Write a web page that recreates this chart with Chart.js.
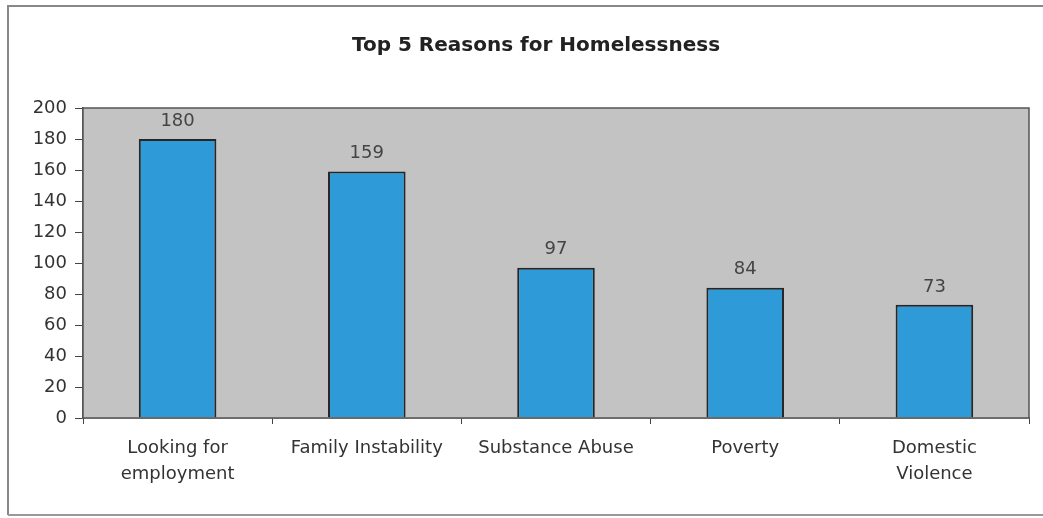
<!DOCTYPE html>
<html>
<head>
<meta charset="utf-8">
<script src="https://cdn.jsdelivr.net/npm/chart.js@4"></script>
<style>
    html, body { margin: 0; padding: 0; background: #fff; }
    #wrap { width: 1043px; height: 518px; position: relative; }
</style>
</head>
<body>
<div id="wrap"><canvas id="chart" width="1043" height="518"></canvas></div>
<script>
// Data
const categories = [
    ["Looking for", "employment"],
    "Family Instability",
    "Substance Abuse",
    "Poverty",
    ["Domestic", "Violence"]
];
const counts = [180, 159, 97, 84, 73];
const yTicks = [0, 20, 40, 60, 80, 100, 120, 140, 160, 180, 200];
const chartTitle = 'Top 5 Reasons for Homelessness';

const FONT = "'DejaVu Sans', sans-serif";

// Frame, title, gray plot area and value labels
const framePlugin = {
    id: 'frame',
    beforeDatasetsDraw(chart) {
        const { ctx, chartArea: a } = chart;
        ctx.save();
        ctx.fillStyle = '#c3c3c3';
        ctx.fillRect(a.left, a.top, a.right - a.left, a.bottom - a.top);
        ctx.restore();
    },
    afterDatasetsDraw(chart) {
        const { ctx, chartArea: a } = chart;
        ctx.save();
        ctx.strokeStyle = '#555';
        ctx.lineWidth = 1.5;
        ctx.strokeRect(a.left, a.top, a.right - a.left, a.bottom - a.top);
        // outer border
        ctx.strokeStyle = '#888';
        ctx.lineWidth = 2;
        ctx.beginPath();
        ctx.moveTo(8, 515);
        ctx.lineTo(8, 6);
        ctx.lineTo(1043, 6);
        ctx.stroke();
        ctx.strokeStyle = '#999';
        ctx.beginPath();
        ctx.moveTo(8, 515);
        ctx.lineTo(1043, 515);
        ctx.stroke();
        // title
        ctx.fillStyle = '#222';
        ctx.font = 'bold 20px ' + FONT;
        ctx.textAlign = 'center';
        ctx.textBaseline = 'middle';
        ctx.fillText(chartTitle, 536, 46);
        // value labels
        ctx.fillStyle = '#444';
        ctx.font = '18px ' + FONT;
        ctx.textBaseline = 'bottom';
        chart.getDatasetMeta(0).data.forEach((bar, i) => {
            ctx.fillText(String(counts[i]), bar.x, bar.y - 9);
        });
        ctx.restore();
    }
};

new Chart(document.getElementById('chart'), {
    type: 'bar',
    data: {
        labels: categories,
        datasets: [{
            data: counts,
            backgroundColor: '#2f9ad8',
            borderColor: '#262626',
            borderWidth: 2,
            categoryPercentage: 1,
            barPercentage: 0.41
        }]
    },
    options: {
        responsive: false,
        animation: false,
        layout: { padding: { left: 0, right: 14, top: 108, bottom: 0 } },
        plugins: {
            legend: { display: false },
            tooltip: { enabled: false },
            title: { display: false }
        },
        scales: {
            x: {
                grid: { display: true, drawOnChartArea: false, drawTicks: true, tickLength: 6, color: '#444', offset: true },
                border: { display: true, color: '#555', width: 1.5 },
                ticks: { color: '#333', font: { family: FONT, size: 18, lineHeight: 1.45 }, padding: 11, maxRotation: 0, autoSkip: false },
                afterFit(scale) { scale.height = 100; }
            },
            y: {
                min: 0,
                max: 200,
                afterBuildTicks(scale) { scale.ticks = yTicks.map(v => ({ value: v })); },
                grid: { display: true, drawOnChartArea: false, drawTicks: true, tickLength: 8, color: '#444' },
                border: { display: true, color: '#555', width: 1.5 },
                ticks: { color: '#333', font: { family: FONT, size: 18 }, padding: 8 },
                afterFit(scale) { scale.width = 83; }
            }
        }
    },
    plugins: [framePlugin]
});
</script>
</body>
</html>
